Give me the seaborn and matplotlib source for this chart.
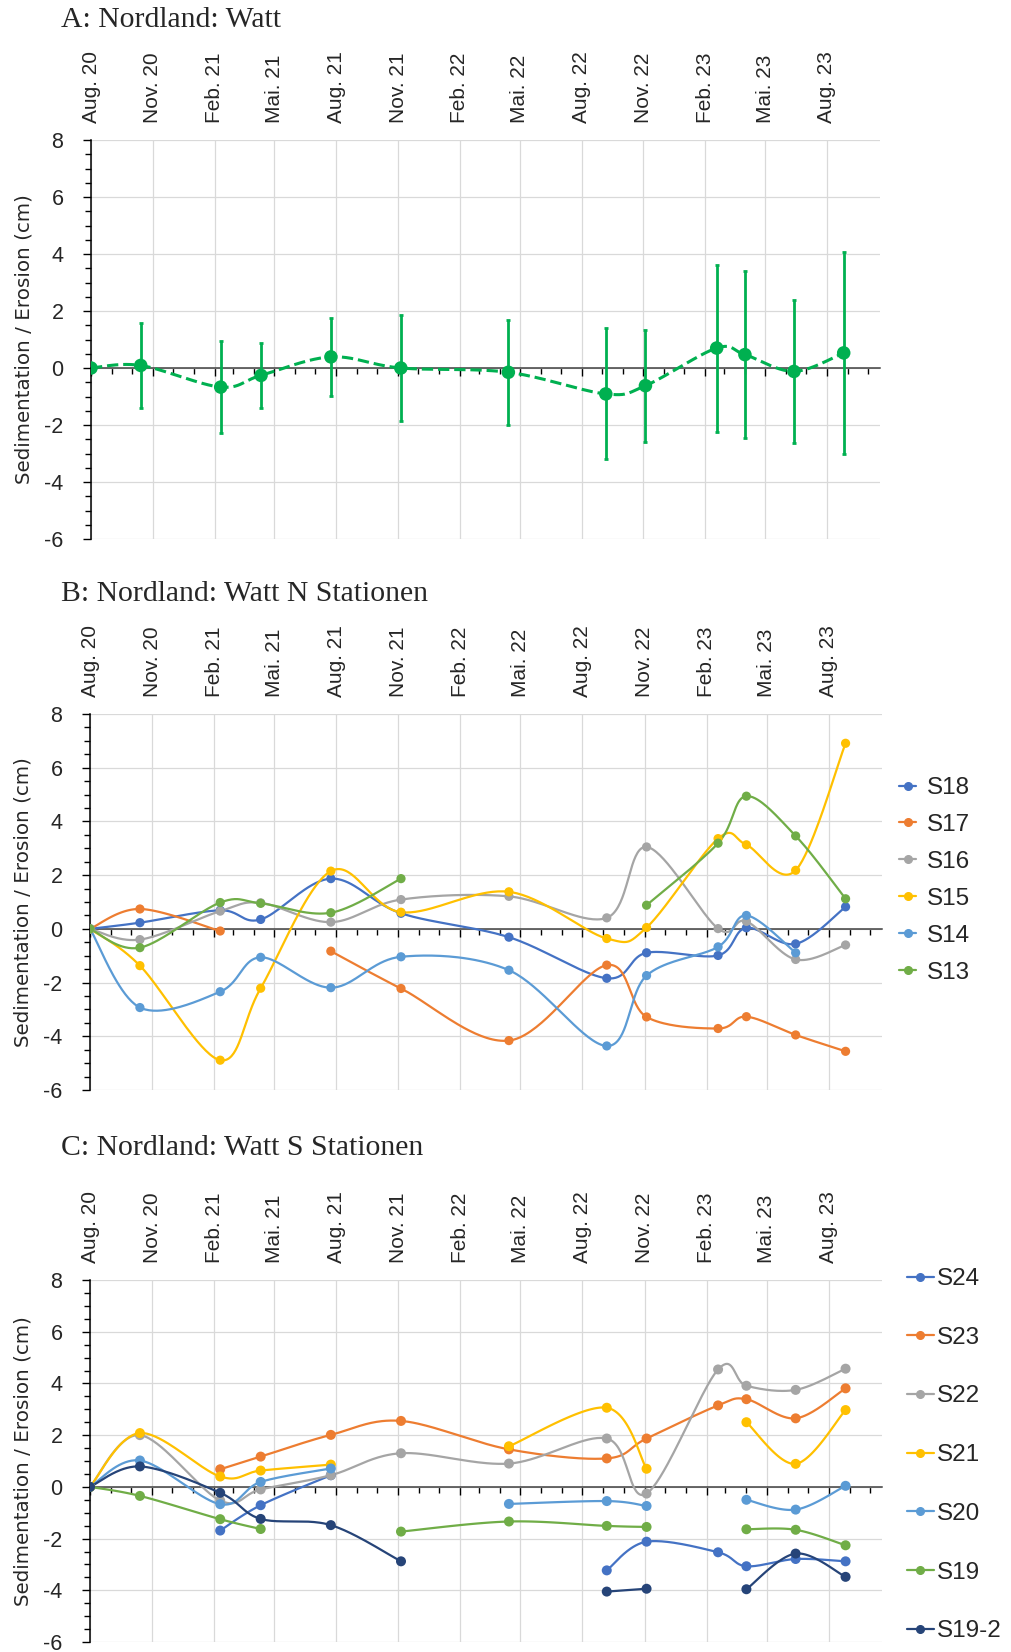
import numpy as np
import pandas as pd
import matplotlib
matplotlib.use("Agg")
import matplotlib.pyplot as plt
import matplotlib.dates as mdates
from matplotlib.ticker import MultipleLocator
from matplotlib.lines import Line2D
import seaborn as sns

sns.set_style("white")
plt.rcParams['font.family'] = ['Liberation Sans', 'DejaVu Sans']
plt.rcParams['axes.unicode_minus'] = False

# ---------------- data ----------------
dates = ["2020-08-01", "2020-10-14", "2021-02-10", "2021-04-11", "2021-07-24",
         "2021-11-05", "2022-04-14", "2022-09-06", "2022-11-04", "2023-02-18",
         "2023-04-01", "2023-06-13", "2023-08-26"]

tick_dates = ["2020-08-01", "2020-11-01", "2021-02-01", "2021-05-01", "2021-08-01",
              "2021-11-01", "2022-02-01", "2022-05-01", "2022-08-01", "2022-11-01",
              "2023-02-01", "2023-05-01", "2023-08-01"]
tick_labels = ["Aug. 20", "Nov. 20", "Feb. 21", "Mai. 21", "Aug. 21", "Nov. 21",
               "Feb. 22", "Mai. 22", "Aug. 22", "Nov. 22", "Feb. 23", "Mai. 23", "Aug. 23"]

nan = np.nan

# Panel A: mean with standard deviation
watt_mean = [0.0, 0.09, -0.67, -0.26, 0.39, 0.0, -0.15, -0.91, -0.62, 0.70, 0.47, -0.12, 0.53]
watt_sd = [0.0, 1.48, 1.62, 1.14, 1.36, 1.86, 1.85, 2.30, 1.97, 2.93, 2.94, 2.50, 3.54]

# Panel B: N stations
b_names = ["S18", "S17", "S16", "S15", "S14", "S13"]
S18 = [0, 0.23, 0.69, 0.35, 1.87, 0.58, -0.31, -1.84, -0.89, -0.99, 0.04, -0.56, 0.82]
S17 = [0, 0.74, -0.08, nan, -0.83, -2.22, -4.16, -1.35, -3.28, -3.71, -3.27, -3.95, -4.56]
S16 = [0, -0.40, 0.66, 0.97, 0.25, 1.09, 1.21, 0.41, 3.05, 0.01, 0.28, -1.14, -0.60]
S15 = [0, -1.37, -4.89, -2.21, 2.15, 0.62, 1.38, -0.36, 0.05, 3.36, 3.13, 2.18, 6.91]
S14 = [0, -2.93, -2.34, -1.06, -2.19, -1.04, -1.54, -4.36, -1.74, -0.67, 0.50, -0.89, nan]
S13 = [0, -0.70, 0.98, 0.95, 0.60, 1.87, nan, nan, 0.88, 3.19, 4.94, 3.46, 1.12]
b_values = [S18, S17, S16, S15, S14, S13]
b_colors = ["#4472C4", "#ED7D31", "#A5A5A5", "#FFC000", "#5B9BD5", "#70AD47"]

# Panel C: S stations
c_names = ["S24", "S23", "S22", "S21", "S20", "S19", "S19-2"]
S24 = [0, nan, -1.69, -0.71, 0.45, nan, nan, -3.23, -2.12, -2.53, -3.07, -2.79, -2.88]
S23 = [0, nan, 0.68, 1.17, 2.01, 2.55, 1.45, 1.10, 1.87, 3.15, 3.39, 2.65, 3.81]
S22 = [0, 2.00, -0.53, -0.10, 0.45, 1.30, 0.90, 1.87, -0.26, 4.54, 3.91, 3.75, 4.57]
S21 = [0, 2.08, 0.40, 0.63, 0.86, nan, 1.57, 3.06, 0.70, nan, 2.50, 0.89, 2.97]
S20 = [0, 1.02, -0.67, 0.19, 0.71, nan, -0.66, -0.55, -0.74, nan, -0.50, -0.88, 0.04]
S19 = [0, -0.35, -1.25, -1.63, nan, -1.73, -1.34, -1.51, -1.55, nan, -1.64, -1.66, -2.26]
S19_2 = [0, 0.79, -0.23, -1.24, -1.48, -2.88, nan, -4.05, -3.94, nan, -3.96, -2.58, -3.48]
c_values = [S24, S23, S22, S21, S20, S19, S19_2]
c_colors = ["#4472C4", "#ED7D31", "#A5A5A5", "#FFC000", "#5B9BD5", "#70AD47", "#264478"]

titles = ["A: Nordland: Watt", "B: Nordland: Watt N Stationen", "C: Nordland: Watt S Stationen"]
ylabel = "Sedimentation / Erosion (cm)"

# ---------------- helpers ----------------
xnum = mdates.date2num(pd.to_datetime(dates))


def smooth_runs(x, y, n=40):
    """Excel-like smoothed line (cubic Bezier, 1/6 tension) per run of valid points."""
    x = np.asarray(x, float)
    y = np.asarray(y, float)
    ok = ~np.isnan(y)
    runs, cur = [], []
    for i in range(len(y)):
        if ok[i]:
            cur.append(i)
        else:
            if cur:
                runs.append(cur)
            cur = []
    if cur:
        runs.append(cur)
    out = []
    for r in runs:
        if len(r) < 2:
            continue
        P = np.column_stack([x[r], y[r]])
        xs, ys = [], []
        m = len(P)
        for i in range(m - 1):
            p0 = P[i - 1] if i > 0 else P[i]
            p1, p2 = P[i], P[i + 1]
            p3 = P[i + 2] if i + 2 < m else P[i + 1]
            c1 = p1 + (p2 - p0) / 6.0
            c2 = p2 - (p3 - p1) / 6.0
            t = np.linspace(0, 1, n)[:, None]
            b = ((1 - t) ** 3) * p1 + 3 * ((1 - t) ** 2) * t * c1 + 3 * (1 - t) * t ** 2 * c2 + t ** 3 * p2
            xs.append(b[:, 0])
            ys.append(b[:, 1])
        out.append((np.concatenate(xs), np.concatenate(ys)))
    return out


W, H = 1012, 1652
fig = plt.figure(figsize=(W / 100, H / 100), dpi=100)


def make_axes(top, bottom, left=90, right=882):
    return fig.add_axes([left / W, 1 - bottom / H, (right - left) / W, (bottom - top) / H])


def style_axes(ax):
    ax.set_xlim(mdates.date2num(pd.Timestamp("2020-08-01")), mdates.date2num(pd.Timestamp("2023-10-19")))
    ax.set_ylim(-6, 8)
    ax.set_yticks(np.arange(-6, 9, 2))
    ax.yaxis.set_minor_locator(MultipleLocator(0.5))
    ax.set_xticks(mdates.date2num(pd.to_datetime(tick_dates)))
    ax.set_xticklabels(tick_labels)
    ax.xaxis.set_minor_locator(mdates.MonthLocator())
    ax.grid(True, which='major', color='#D9D9D9', lw=0.9)
    ax.set_axisbelow(True)
    for s in ['top', 'right']:
        ax.spines[s].set_visible(False)
    ax.spines['bottom'].set_position(('data', 0))
    ax.spines['bottom'].set_color('#404040')
    ax.spines['bottom'].set_linewidth(1.1)
    ax.spines['left'].set_color('black')
    ax.spines['left'].set_linewidth(1.1)
    ax.spines['bottom'].set_zorder(1.5)
    ax.tick_params(axis='x', which='both', bottom=True, top=False, labelbottom=False,
                   labeltop=True, direction='out', color='black', width=1.0)
    ax.tick_params(axis='x', which='major', length=5.8, pad=6.5, labelsize=15, labelrotation=90)
    ax.tick_params(axis='x', which='minor', length=4.3)
    ax.tick_params(axis='y', which='both', left=True, direction='out', color='black', width=1.0)
    ax.tick_params(axis='y', which='major', length=5.8, pad=14, labelsize=15.5)
    ax.tick_params(axis='y', which='minor', length=4.3)
    for lab in ax.get_xticklabels():
        lab.set_va('bottom')
    ax.set_ylabel(ylabel, fontsize=14.3, family=['DejaVu Sans'])
    ax.yaxis.set_label_coords(-0.085, 0.5)
    ax.yaxis.label.set_va('center')


def draw_series(ax, vals, color, s, lw, ls='-', z=3):
    for xs, ys in smooth_runs(xnum, vals):
        sns.lineplot(x=xs, y=ys, ax=ax, sort=False, estimator=None, color=color,
                     lw=lw, ls=ls, zorder=z)
    v = np.asarray(vals, float)
    ok = ~np.isnan(v)
    sns.scatterplot(x=xnum[ok], y=v[ok], ax=ax, color=color, s=s, edgecolor='none',
                    zorder=z + 0.1, legend=False)


# ---------------- Panel A ----------------
axA = make_axes(140, 539, left=91, right=880)
style_axes(axA)
gA = "#00B050"
draw_series(axA, watt_mean, gA, s=95, lw=2.2, ls='--')
axA.errorbar(xnum, watt_mean, yerr=watt_sd, fmt='none', ecolor=gA, elinewidth=2.0,
             capsize=1.6, capthick=2.0, zorder=3.2)

# ---------------- Panel B ----------------
axB = make_axes(714, 1090)
style_axes(axB)
for vals, col in zip(b_values, b_colors):
    draw_series(axB, vals, col, s=44, lw=1.6)
hB = [Line2D([], [], color=c, lw=1.6, marker='o', markersize=5.5) for c in b_colors]
fig.legend(hB, b_names, loc='upper left', bbox_to_anchor=(899 / W, 1 - 777 / H),
           frameon=False, fontsize=17.5, handlelength=0.7, handletextpad=0.45,
           labelspacing=0.615, borderpad=0, borderaxespad=0)

# ---------------- Panel C ----------------
axC = make_axes(1280, 1642)
style_axes(axC)
for vals, col in zip(c_values, c_colors):
    draw_series(axC, vals, col, s=52, lw=1.6)
hC = [Line2D([], [], color=c, lw=1.6, marker='o', markersize=5.5) for c in c_colors]
fig.legend(hC, c_names, loc='upper left', bbox_to_anchor=(907 / W, 1 - 1268 / H),
           frameon=False, fontsize=17.5, handlelength=1.1, handletextpad=0.15,
           labelspacing=1.51, borderpad=0, borderaxespad=0)

# ---------------- Titles ----------------
for t, yb in zip(titles, [26.7, 601, 1155]):
    fig.text(61 / W, 1 - yb / H, t, fontsize=21.4, family=['Liberation Serif'],
             va='baseline', ha='left')

fig.savefig("out.png", dpi=100)
